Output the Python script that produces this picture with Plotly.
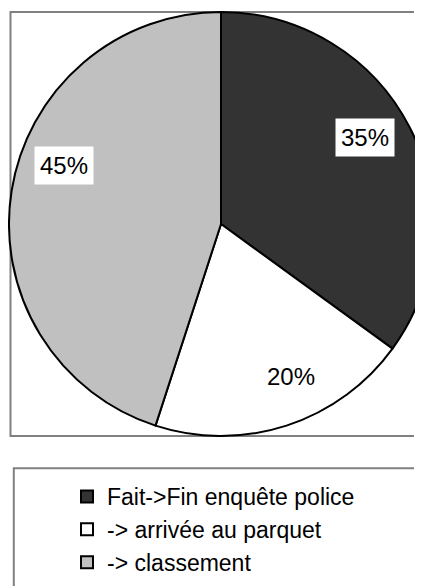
import math
import plotly.graph_objects as go

# ---- data ----
categories = ["Fait->Fin enquête police", "-> arrivée au parquet", "-> classement"]
shares = [35, 20, 45]
slice_colors = ["#333333", "#ffffff", "#c0c0c0"]

# ---- layout helpers ----
W, H = 430, 590
OX, OY = 8, 8  # screen offset of figure origin (page body margin)


def px(x):
    return (x - OX) / W


def py(y):
    return 1 - (y - OY) / H


CX, CY, R = 221, 224, 212
dom_x = [max(0.0, px(CX - R)), min(1.0, px(CX + R))]
dom_y = [max(0.0, py(CY + R)), min(1.0, py(CY - R))]

FONT = "Arial, Liberation Sans, sans-serif"

fig = go.Figure(
    go.Pie(
        labels=categories,
        values=shares,
        sort=False,
        direction="clockwise",
        rotation=0,
        marker=dict(colors=slice_colors, line=dict(color="#000000", width=2)),
        textinfo="none",
        hoverinfo="label+percent",
        domain=dict(x=dom_x, y=dom_y),
    )
)

# percentage labels with white boxes (Excel best-fit placement)
label_shift = [-4, -6.6, 11.4]  # degrees relative to slice middle
total = sum(shares)
cum = 0
annotations = []
for i, v in enumerate(shares):
    mid = (cum + v / 2) / total * 360
    cum += v
    ang = math.radians(mid + label_shift[i])
    lx = CX + 0.79 * R * math.sin(ang)
    ly = CY - 0.79 * R * math.cos(ang)
    annotations.append(
        dict(
            x=px(lx), y=py(ly), xref="paper", yref="paper",
            text=f"{round(v / total * 100)}%",
            showarrow=False, xanchor="center", yanchor="middle",
            bgcolor="#ffffff", borderpad=5,
            font=dict(family=FONT, size=24, color="#000000"),
        )
    )


def open_box(x0, y0, x1, y1):
    # top, left and bottom edges only (box continues past the right border)
    return (f"M {px(x1)},{py(y0)} L {px(x0)},{py(y0)} "
            f"L {px(x0)},{py(y1)} L {px(x1)},{py(y1)}")


shapes = [
    dict(type="path", xref="paper", yref="paper",
         path=open_box(10.5, 12, 414, 436),
         line=dict(color="#808080", width=2), layer="below"),
    dict(type="path", xref="paper", yref="paper",
         path=open_box(13.8, 468.3, 414, 640),
         line=dict(color="#808080", width=2), layer="below"),
]

fig.update_layout(
    width=W, height=H,
    margin=dict(l=0, r=0, t=0, b=0),
    paper_bgcolor="#ffffff",
    plot_bgcolor="#ffffff",
    font=dict(family=FONT, size=23, color="#000000"),
    showlegend=True,
    legend=dict(
        x=px(67), y=py(475), xanchor="left", yanchor="top",
        font=dict(family=FONT, size=23, color="#000000"),
        bgcolor="rgba(0,0,0,0)", borderwidth=0,
        traceorder="normal",
    ),
    annotations=annotations,
    shapes=shapes,
)

fig.write_html("out.html")
